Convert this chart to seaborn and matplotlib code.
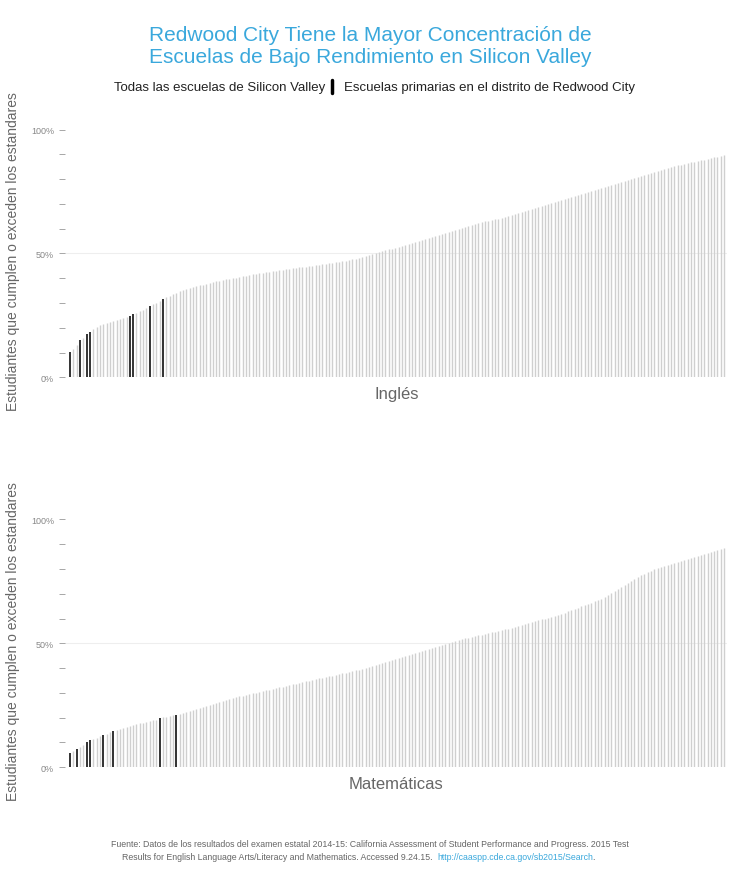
import numpy as np
import pandas as pd
import seaborn as sns
from matplotlib import pyplot as plt

# porcentaje de estudiantes que cumplen o exceden los estandares, ordenado
ingles = [
    10.4, 11.5, 13, 15, 16, 17.6, 18.4, 19.5, 20.2, 21,
    21.5, 22, 22.4, 22.8, 23.2, 23.6, 24, 24.4, 24.8, 25.4,
    26, 26.6, 27.2, 28, 29, 29.6, 30.2, 30.8, 31.6, 32.3,
    33, 33.6, 34.2, 34.7, 35.2, 35.6, 36, 36.4, 36.8, 37.1,
    37.4, 37.8, 38.1, 38.4, 38.7, 39, 39.3, 39.6, 39.8, 40,
    40.3, 40.6, 40.9, 41.1, 41.4, 41.6, 41.9, 42.1, 42.3, 42.5,
    42.7, 42.9, 43.1, 43.3, 43.5, 43.7, 43.9, 44, 44.2, 44.4,
    44.5, 44.7, 44.9, 45, 45.2, 45.4, 45.6, 45.8, 46, 46.2,
    46.4, 46.6, 46.8, 47, 47.3, 47.6, 47.9, 48.2, 48.5, 48.8,
    49.2, 49.6, 50, 50.4, 50.8, 51.2, 51.6, 52, 52.4, 52.8,
    53.2, 53.6, 54, 54.4, 54.8, 55.2, 55.6, 56, 56.4, 56.8,
    57.2, 57.6, 58, 58.4, 58.8, 59.2, 59.6, 60, 60.4, 60.8,
    61.2, 61.5, 61.9, 62.2, 62.6, 62.9, 63.2, 63.5, 63.8, 64.1,
    64.4, 64.8, 65.2, 65.6, 66, 66.4, 66.8, 67.2, 67.6, 68,
    68.4, 68.8, 69.2, 69.6, 70, 70.4, 70.8, 71.2, 71.6, 72,
    72.4, 72.8, 73.2, 73.6, 74, 74.4, 74.8, 75.2, 75.6, 76,
    76.4, 76.8, 77.2, 77.6, 78, 78.4, 78.8, 79.2, 79.6, 80,
    80.4, 80.8, 81.2, 81.6, 82, 82.4, 82.8, 83.2, 83.6, 84,
    84.4, 84.8, 85.2, 85.5, 85.8, 86.1, 86.4, 86.7, 87, 87.3,
    87.6, 87.9, 88.2, 88.5, 88.8, 89.1, 89.4, 89.7,
]
ingles_rwc = [0, 3, 5, 6, 18, 19, 24, 28]

matematicas = [
    5.6, 6.5, 7.2, 8, 9, 10, 10.8, 11.5, 12, 12.6,
    13.2, 13.6, 14.2, 14.8, 15.2, 15.6, 16, 16.4, 16.8, 17.1,
    17.4, 17.7, 18, 18.3, 18.6, 18.9, 19.2, 20, 20.2, 20.4,
    20.7, 21, 21.2, 21.6, 22, 22.4, 22.8, 23.2, 23.6, 24,
    24.4, 24.8, 25.2, 25.6, 26, 26.4, 26.8, 27.2, 27.6, 28,
    28.3, 28.6, 28.9, 29.2, 29.5, 29.8, 30.1, 30.4, 30.7, 31,
    31.3, 31.6, 31.9, 32.2, 32.5, 32.8, 33.1, 33.4, 33.7, 34,
    34.3, 34.6, 34.9, 35.2, 35.5, 35.8, 36.1, 36.4, 36.7, 37,
    37.3, 37.6, 37.9, 38.2, 38.5, 38.8, 39.1, 39.4, 39.7, 40,
    40.4, 40.8, 41.2, 41.6, 42, 42.4, 42.8, 43.2, 43.6, 44,
    44.4, 44.8, 45.2, 45.6, 46, 46.4, 46.8, 47.2, 47.6, 48,
    48.4, 48.8, 49.2, 49.6, 50, 50.4, 50.8, 51.2, 51.6, 52,
    52.3, 52.6, 52.9, 53.2, 53.5, 53.8, 54.1, 54.4, 54.7, 55,
    55.3, 55.6, 55.9, 56.2, 56.5, 56.8, 57.2, 57.6, 58, 58.4,
    58.8, 59.2, 59.6, 60, 60.4, 60.8, 61.2, 61.6, 62, 62.4,
    62.9, 63.4, 63.9, 64.4, 64.9, 65.4, 65.9, 66.4, 66.9, 67.4,
    68, 68.8, 69.6, 70.4, 71.2, 72, 72.8, 73.6, 74.4, 75.2,
    76, 76.8, 77.4, 78, 78.6, 79.2, 79.8, 80.3, 80.8, 81.2,
    81.6, 82, 82.4, 82.8, 83.2, 83.6, 84, 84.4, 84.8, 85.2,
    85.6, 86, 86.4, 86.8, 87.2, 87.6, 88, 88.6,
]
matematicas_rwc = [0, 2, 5, 6, 10, 13, 27, 32]

GRIS = "#666666"
AZUL = "#3aa8dc"

sns.set_style("white")
plt.rcParams['font.family'] = ['Liberation Sans', 'DejaVu Sans']

fig = plt.figure(figsize=(7.4, 8.78), dpi=100)


def panel(rect, valores, rwc, titulo):
    ax = fig.add_axes(rect)
    df = pd.DataFrame({"i": np.arange(len(valores)), "v": valores})
    df["rwc"] = df["i"].isin(rwc)
    ax.axhline(50, color="#eeeeee", lw=0.8, zorder=0)
    sv = df[~df["rwc"]]
    rw = df[df["rwc"]]
    # barras finas como lineas verticales
    ax.vlines(sv["i"], 0, sv["v"], color="#cfcfcf", lw=1.0, zorder=2)
    ax.vlines(rw["i"], 0, rw["v"], color="#222222", lw=1.3, zorder=3)
    ax.set_xlim(-1.5, len(valores))
    ax.set_ylim(0, 102)
    ax.set_xticks([])
    ax.set_yticks([0, 50, 100])
    ax.set_yticklabels(["0%", "50%", "100%"], color="#888888", fontsize=6.5)
    ax.set_yticks(np.arange(10, 100, 10), minor=True)
    ax.tick_params(axis="y", which="both", length=4, color="#999999",
                   width=0.6, pad=4, left=True)
    sns.despine(ax=ax, left=True, bottom=True)
    ax.set_xlabel(titulo, fontsize=12, color=GRIS, labelpad=6)
    ax.set_ylabel("Estudiantes que cumplen o exceden los estandares",
                  fontsize=10, color=GRIS, labelpad=8)
    return ax


panel([0.088, 0.569, 0.895, 0.288], ingles, ingles_rwc, "Inglés")
panel([0.088, 0.125, 0.895, 0.288], matematicas, matematicas_rwc, "Matemáticas")

fig.text(0.5, 0.947, "Redwood City Tiene la Mayor Concentración de\nEscuelas de Bajo Rendimiento en Silicon Valley",
         ha="center", va="center", fontsize=15, color=AZUL, linespacing=1.15)

fig.text(0.44, 0.9, "Todas las escuelas de Silicon Valley", ha="right", va="center",
         fontsize=9.5, color="#222222")
fig.add_artist(plt.Line2D([0.449, 0.449], [0.893, 0.908], color="black", lw=2.5))
fig.text(0.465, 0.9, "Escuelas primarias en el distrito de Redwood City", ha="left",
         va="center", fontsize=9.5, color="#222222")

fig.text(0.5, 0.038, "Fuente: Datos de los resultados del examen estatal 2014-15: California Assessment of Student Performance and Progress. 2015 Test",
         ha="center", va="center", fontsize=6.3, color=GRIS)
fig.text(0.165, 0.023, "Results for English Language Arts/Literacy and Mathematics. Accessed 9.24.15.",
         ha="left", va="center", fontsize=6.3, color=GRIS)
fig.text(0.591, 0.023, "http://caaspp.cde.ca.gov/sb2015/Search",
         ha="left", va="center", fontsize=6.3, color=AZUL)
fig.text(0.8, 0.023, ".", ha="left", va="center", fontsize=6.3, color=GRIS)

fig.savefig("out.png", dpi=100, facecolor="white")
